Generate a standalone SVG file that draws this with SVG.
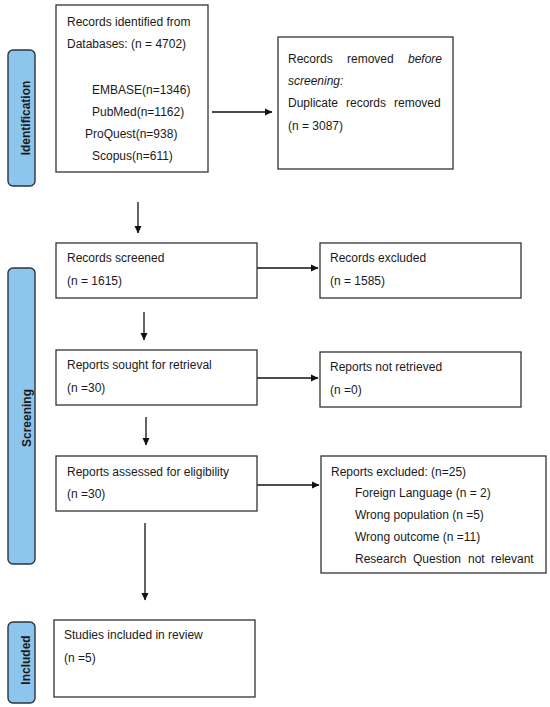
<svg xmlns="http://www.w3.org/2000/svg" width="550" height="707" viewBox="0 0 550 707">
<defs>
<style>
.box{fill:#fff;stroke:#333;stroke-width:1.3}
.side{fill:#8dc6ec;stroke:#2b3440;stroke-width:1.4}
.t{font-family:"Liberation Sans",Arial,sans-serif;font-size:12px;fill:#1a1a1a}
.s{font-family:"Liberation Sans",Arial,sans-serif;font-size:12px;font-weight:bold;fill:#1a1a1a}
.c{stroke:#111;stroke-width:1.3;fill:none;marker-end:url(#ah)}
</style>
<marker id="ah" markerWidth="8" markerHeight="8" refX="7" refY="4" orient="auto" markerUnits="userSpaceOnUse">
<path d="M0,0.5 L7.5,4 L0,7.5 Z" fill="#111"/>
</marker>
<clipPath id="scl"><rect x="8" y="268" width="26" height="296"/></clipPath>
</defs>

<g id="phase-identification">
<rect class="side" x="8" y="50" width="27" height="136" rx="5"/>
<text class="s" transform="translate(30,118) rotate(-90)" text-anchor="middle">Identification</text>
</g>
<g id="phase-screening">
<rect class="side" x="8" y="268" width="27" height="296" rx="5"/>
<g clip-path="url(#scl)">
<text class="s" transform="translate(31,418) rotate(-90)" text-anchor="middle">Screening</text>
</g>
</g>
<g id="phase-included">
<rect class="side" x="8" y="622" width="27" height="81" rx="5"/>
<text class="s" transform="translate(30,660) rotate(-90)" text-anchor="middle">Included</text>
</g>

<g id="connectors">
<line class="c" x1="212" y1="112" x2="272" y2="112"/>
<line class="c" x1="138" y1="202" x2="138" y2="233"/>
<line class="c" x1="257" y1="268" x2="318" y2="268"/>
<line class="c" x1="144" y1="312" x2="144" y2="340"/>
<line class="c" x1="257" y1="378" x2="318" y2="378"/>
<line class="c" x1="146" y1="417" x2="146" y2="445"/>
<line class="c" x1="257" y1="485" x2="319" y2="485"/>
<line class="c" x1="145" y1="523" x2="145" y2="600"/>
</g>

<g id="records-identified">
<rect class="box" x="56" y="5" width="152" height="167"/>
<text class="t" x="67" y="26">Records identified from</text>
<text class="t" x="67" y="48">Databases: (n = 4702)</text>
<text class="t" x="92" y="94">EMBASE(n=1346)</text>
<text class="t" x="92" y="116">PubMed(n=1162)</text>
<text class="t" x="85" y="138">ProQuest(n=938)</text>
<text class="t" x="92" y="160">Scopus(n=611)</text>
</g>

<g id="records-removed">
<rect class="box" x="278" y="37" width="175" height="132"/>
<text class="t" y="63"><tspan x="288">Records</tspan><tspan x="347">removed</tspan><tspan x="408" font-style="italic">before</tspan></text>
<text class="t" x="288" y="85" font-style="italic">screening:</text>
<text class="t" y="107"><tspan x="288">Duplicate</tspan><tspan x="346">records</tspan><tspan x="394">removed</tspan></text>
<text class="t" x="288" y="130">(n = 3087)</text>
</g>

<g id="records-screened">
<rect class="box" x="56" y="243" width="201" height="55"/>
<text class="t" x="67" y="262">Records screened</text>
<text class="t" x="67" y="285">(n = 1615)</text>
</g>

<g id="records-excluded">
<rect class="box" x="320" y="243" width="201" height="55"/>
<text class="t" x="330" y="262">Records excluded</text>
<text class="t" x="330" y="285">(n = 1585)</text>
</g>

<g id="reports-sought">
<rect class="box" x="56" y="350" width="201" height="55"/>
<text class="t" x="67" y="369">Reports sought for retrieval</text>
<text class="t" x="67" y="392">(n =30)</text>
</g>

<g id="reports-not-retrieved">
<rect class="box" x="320" y="352" width="201" height="55"/>
<text class="t" x="330" y="371">Reports not retrieved</text>
<text class="t" x="330" y="394">(n =0)</text>
</g>

<g id="reports-assessed">
<rect class="box" x="56" y="456" width="201" height="55"/>
<text class="t" x="67" y="476">Reports assessed for eligibility</text>
<text class="t" x="67" y="498">(n =30)</text>
</g>

<g id="reports-excluded">
<rect class="box" x="321" y="456" width="225" height="117"/>
<text class="t" x="331" y="476">Reports excluded: (n=25)</text>
<text class="t" x="355" y="497">Foreign Language (n = 2)</text>
<text class="t" x="355" y="519">Wrong population (n =5)</text>
<text class="t" x="355" y="541">Wrong outcome (n =11)</text>
<text class="t" y="563"><tspan x="355">Research</tspan><tspan x="413">Question</tspan><tspan x="468">not</tspan><tspan x="491">relevant</tspan></text>
</g>

<g id="studies-included">
<rect class="box" x="54" y="620" width="201" height="77"/>
<text class="t" x="64" y="639">Studies included in review</text>
<text class="t" x="64" y="662">(n =5)</text>
</g>
</svg>
